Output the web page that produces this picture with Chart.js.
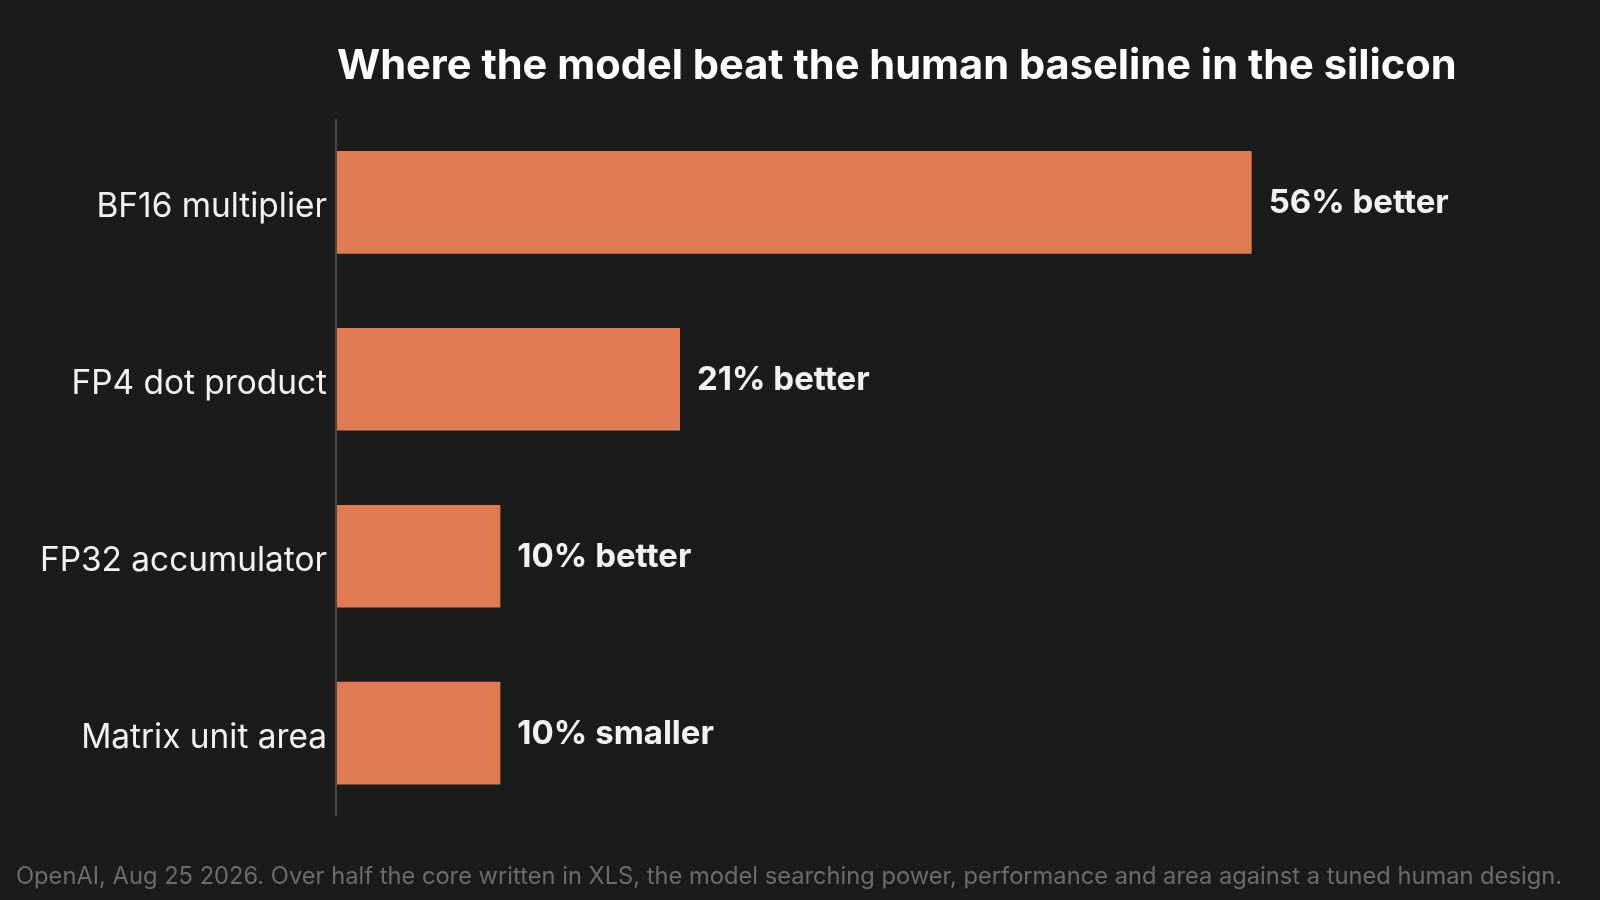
<!DOCTYPE html>
<html>
<head>
<meta charset="utf-8">
<title>Where the model beat the human baseline in the silicon</title>
<script src="https://cdn.jsdelivr.net/npm/chart.js@4.4.1/dist/chart.umd.min.js"></script>
<style>
  html, body { margin: 0; padding: 0; background: #1b1b1b; }
  #wrap { width: 1600px; height: 900px; position: relative; }
</style>
</head>
<body>
<div id="wrap"><canvas id="chart"></canvas></div>
<script>
const categories = ["BF16 multiplier", "FP4 dot product", "FP32 accumulator", "Matrix unit area"];
const improvement = [56, 21, 10, 10];
const valueLabels = ["56% better", "21% better", "10% better", "10% smaller"];
const xMax = 75;

const BAR = "#e07a52";
const TEXT = "#f2f2f2";
const MUTED = "#6c6c6c";
const AXIS = "#474747";
const FONT = "Inter, 'Noto Sans', sans-serif";

// value text past each bar end, plus the left axis rule (a bit shorter than the plot area)
const barValueLabels = {
  id: "barValueLabels",
  afterDatasetsDraw(chart) {
    const ctx = chart.ctx;
    const area = chart.chartArea;
    const meta = chart.getDatasetMeta(0);
    ctx.save();
    ctx.strokeStyle = AXIS;
    ctx.lineWidth = 2;
    ctx.beginPath();
    ctx.moveTo(area.left - 1, area.top + 5);
    ctx.lineTo(area.left - 1, area.bottom - 5);
    ctx.stroke();

    ctx.font = "bold 33px " + FONT;
    ctx.fillStyle = TEXT;
    ctx.textAlign = "left";
    ctx.textBaseline = "middle";
    meta.data.forEach((bar, i) => {
      ctx.fillText(valueLabels[i], bar.x + 17, bar.y + 1);
    });
    ctx.restore();
  },
};

const ctx = document.getElementById("chart").getContext("2d");

new Chart(ctx, {
  type: "bar",
  data: {
    labels: categories,
    datasets: [
      {
        data: improvement,
        backgroundColor: BAR,
        borderWidth: 0,
        barPercentage: 0.58,
        categoryPercentage: 1,
      },
    ],
  },
  options: {
    indexAxis: "y",
    responsive: true,
    maintainAspectRatio: false,
    animation: false,
    layout: { padding: { left: 16, right: 38, top: 0, bottom: 0 } },
    plugins: {
      legend: { display: false },
      tooltip: { enabled: false },
      title: {
        display: true,
        text: "Where the model beat the human baseline in the silicon",
        align: "start",
        fullSize: false,
        color: "#ffffff",
        font: { family: FONT, size: 41.6, weight: "bold" },
        padding: { top: 42, bottom: 22 },
      },
      subtitle: {
        display: true,
        position: "bottom",
        align: "start",
        text: "OpenAI, Aug 25 2026. Over half the core written in XLS, the model searching power, performance and area against a tuned human design.",
        color: MUTED,
        font: { family: FONT, size: 23.7, weight: "normal" },
        padding: { top: 41, bottom: 9 },
      },
    },
    scales: {
      x: {
        display: false,
        min: 0,
        max: xMax,
      },
      y: {
        afterFit(scale) {
          scale.width = 321;
        },
        grid: { display: false, drawTicks: false },
        border: { display: false },
        ticks: {
          color: TEXT,
          padding: 10,
          labelOffset: 5,
          font: { family: FONT, size: 33.4 },
        },
      },
    },
  },
  plugins: [barValueLabels],
});
</script>
</body>
</html>
